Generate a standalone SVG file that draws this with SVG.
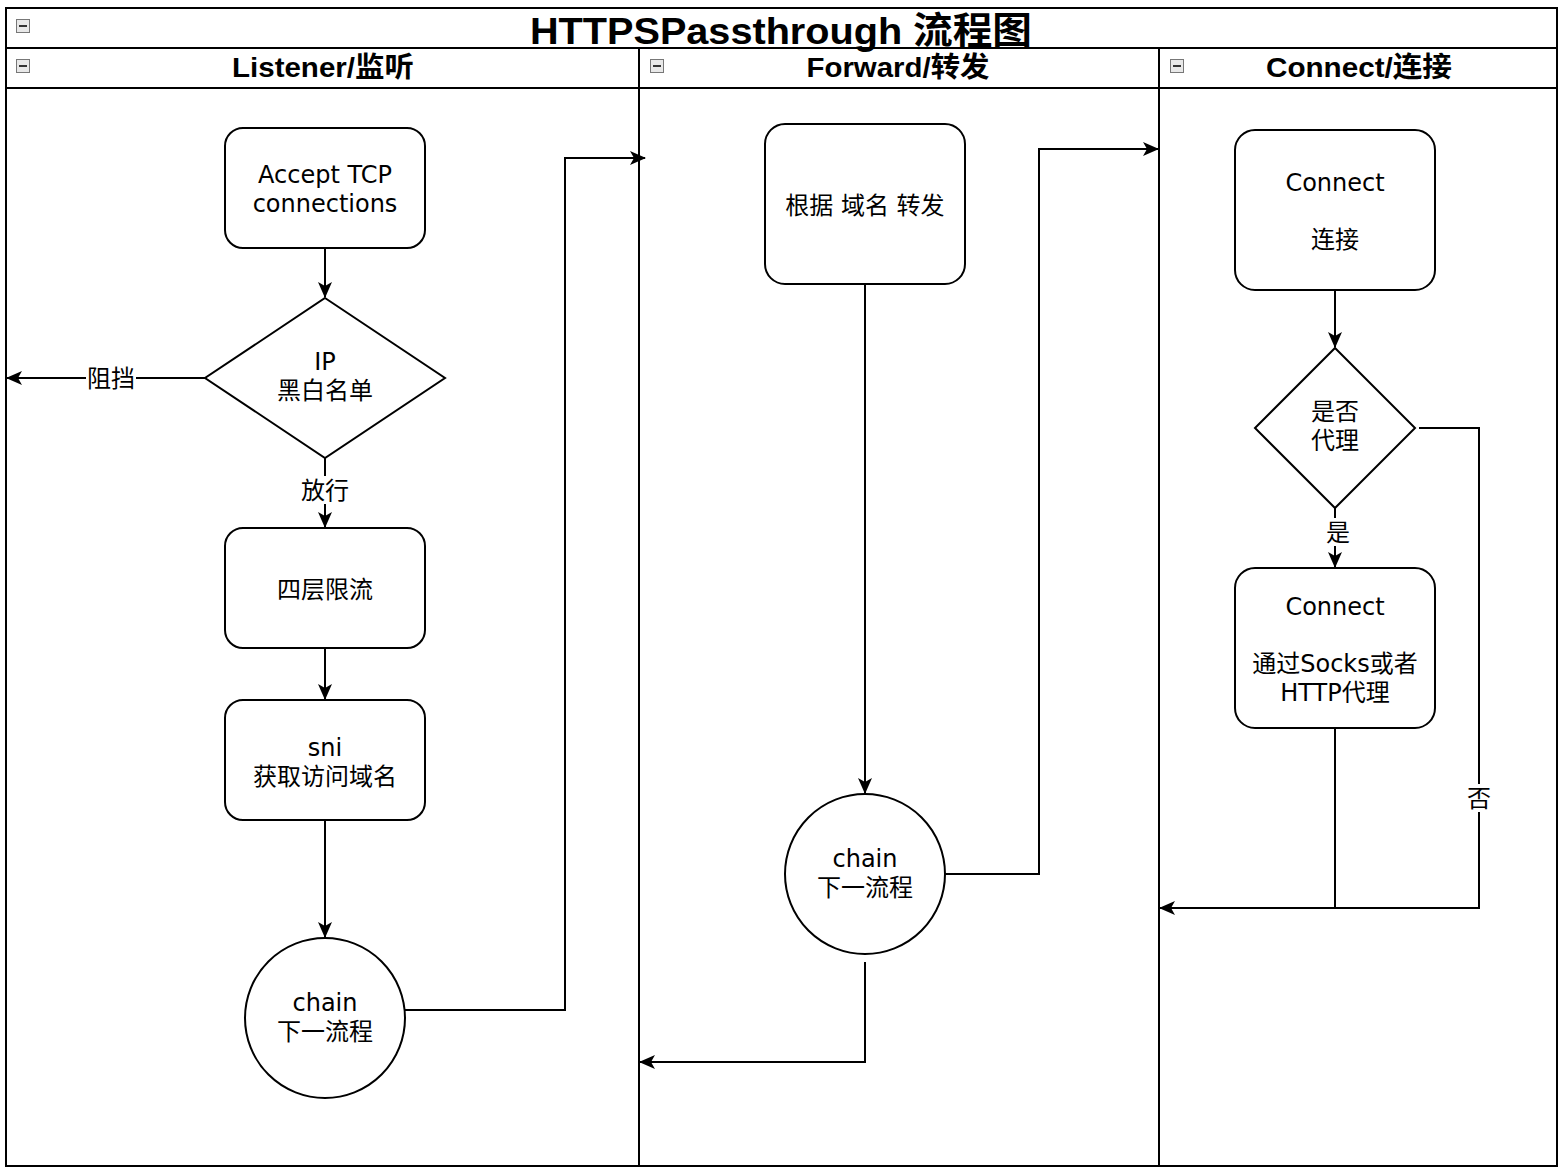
<svg xmlns="http://www.w3.org/2000/svg" width="1566" height="1174" viewBox="0 0 1566 1174">
<style>
.ln{fill:none;stroke:#000;stroke-width:2}
.nd{fill:#fff;stroke:#000;stroke-width:2}
.t{font-family:"DejaVu Sans","Noto Sans CJK SC",sans-serif;font-size:24px;text-anchor:middle;fill:#000}
.h{font-family:"Liberation Sans","Noto Sans CJK SC",sans-serif;font-weight:bold;font-size:28px;text-anchor:middle;fill:#000}
.ti{font-family:"Liberation Sans","Noto Sans CJK SC",sans-serif;font-weight:bold;font-size:37px;text-anchor:middle;fill:#000}
.lb{font-family:"DejaVu Sans","Noto Sans CJK SC",sans-serif;font-size:24px;text-anchor:middle;fill:#000}
</style>
<defs>
<marker id="a" viewBox="0 0 16 14" refX="15" refY="7" markerWidth="16" markerHeight="14" markerUnits="userSpaceOnUse" orient="auto">
<path d="M0,0 L16,7 L0,14 L4,7 Z" fill="#000"/>
</marker>
<g id="icon"><rect x="0.5" y="0.5" width="13" height="13" fill="#e8e8e8" stroke="#777" stroke-width="1"/><rect x="3" y="6" width="8" height="2" fill="#333"/></g>
</defs>
<rect width="1566" height="1174" fill="#fff"/>
<g id="pool">
<rect x="6" y="8" width="1551" height="1158" class="ln"/>
<line x1="6" y1="48" x2="1557" y2="48" class="ln"/>
<line x1="6" y1="88" x2="1557" y2="88" class="ln"/>
<line x1="639" y1="48" x2="639" y2="1166" class="ln"/>
<line x1="1159" y1="48" x2="1159" y2="1166" class="ln"/>
<use href="#icon" x="16" y="19"/>
<use href="#icon" x="16" y="59"/>
<use href="#icon" x="650" y="59"/>
<use href="#icon" x="1170" y="59"/>
<text class="ti" x="781" y="44" textLength="502" lengthAdjust="spacingAndGlyphs">HTTPSPassthrough 流程图</text>
<text class="h" x="323" y="77" textLength="182" lengthAdjust="spacingAndGlyphs">Listener/监听</text>
<text class="h" x="898" y="77" textLength="183" lengthAdjust="spacingAndGlyphs">Forward/转发</text>
<text class="h" x="1359" y="77" textLength="186" lengthAdjust="spacingAndGlyphs">Connect/连接</text>
</g>
<g id="connectors">
<path class="ln" d="M325,248 L325,297" marker-end="url(#a)"/>
<path class="ln" d="M205,378 L7,378" marker-end="url(#a)"/>
<path class="ln" d="M325,458 L325,527" marker-end="url(#a)"/>
<path class="ln" d="M325,648 L325,699" marker-end="url(#a)"/>
<path class="ln" d="M325,820 L325,937" marker-end="url(#a)"/>
<path class="ln" d="M405,1010 L565,1010 L565,158 L645,158" marker-end="url(#a)"/>
<path class="ln" d="M865,284 L865,793" marker-end="url(#a)"/>
<path class="ln" d="M945,874 L1039,874 L1039,149 L1158,149" marker-end="url(#a)"/>
<path class="ln" d="M865,962 L865,1062 L640,1062" marker-end="url(#a)"/>
<path class="ln" d="M1335,290 L1335,347" marker-end="url(#a)"/>
<path class="ln" d="M1335,508 L1335,567" marker-end="url(#a)"/>
<path class="ln" d="M1419,428 L1479,428 L1479,908 L1160,908" marker-end="url(#a)"/>
<path class="ln" d="M1335,728 L1335,908"/>
<rect x="86" y="364" width="50" height="28" fill="#fff"/>
<text class="lb" x="111" y="387">阻挡</text>
<rect x="299" y="476" width="52" height="28" fill="#fff"/>
<text class="lb" x="325" y="499">放行</text>
<rect x="1324" y="518" width="28" height="28" fill="#fff"/>
<text class="lb" x="1338" y="541">是</text>
<rect x="1465" y="784" width="28" height="28" fill="#fff"/>
<text class="lb" x="1479" y="807">否</text>
</g>
<g id="accept"><rect class="nd" x="225" y="128" width="200" height="120" rx="18"/><text class="t" x="325" y="183">Accept TCP</text><text class="t" x="325" y="212">connections</text></g>
<g id="ipcheck"><path class="nd" d="M325,298 L445,378 L325,458 L205,378 Z"/><text class="t" x="325" y="370">IP</text><text class="t" x="325" y="399">黑白名单</text></g>
<g id="limit"><rect class="nd" x="225" y="528" width="200" height="120" rx="18"/><text class="t" x="325" y="598">四层限流</text></g>
<g id="sni"><rect class="nd" x="225" y="700" width="200" height="120" rx="18"/><text class="t" x="325" y="756">sni</text><text class="t" x="325" y="785">获取访问域名</text></g>
<g id="chain1"><circle class="nd" cx="325" cy="1018" r="80"/><text class="t" x="325" y="1011">chain</text><text class="t" x="325" y="1040">下一流程</text></g>
<g id="forward"><rect class="nd" x="765" y="124" width="200" height="160" rx="20"/><text class="t" x="865" y="214">根据 域名 转发</text></g>
<g id="chain2"><circle class="nd" cx="865" cy="874" r="80"/><text class="t" x="865" y="867">chain</text><text class="t" x="865" y="896">下一流程</text></g>
<g id="connect1"><rect class="nd" x="1235" y="130" width="200" height="160" rx="20"/><text class="t" x="1335" y="191">Connect</text><text class="t" x="1335" y="248">连接</text></g>
<g id="proxycheck"><path class="nd" d="M1335,348 L1415,428 L1335,508 L1255,428 Z"/><text class="t" x="1335" y="420">是否</text><text class="t" x="1335" y="449">代理</text></g>
<g id="connect2"><rect class="nd" x="1235" y="568" width="200" height="160" rx="20"/><text class="t" x="1335" y="615">Connect</text><text class="t" x="1335" y="672">通过Socks或者</text><text class="t" x="1335" y="701">HTTP代理</text></g>
</svg>
